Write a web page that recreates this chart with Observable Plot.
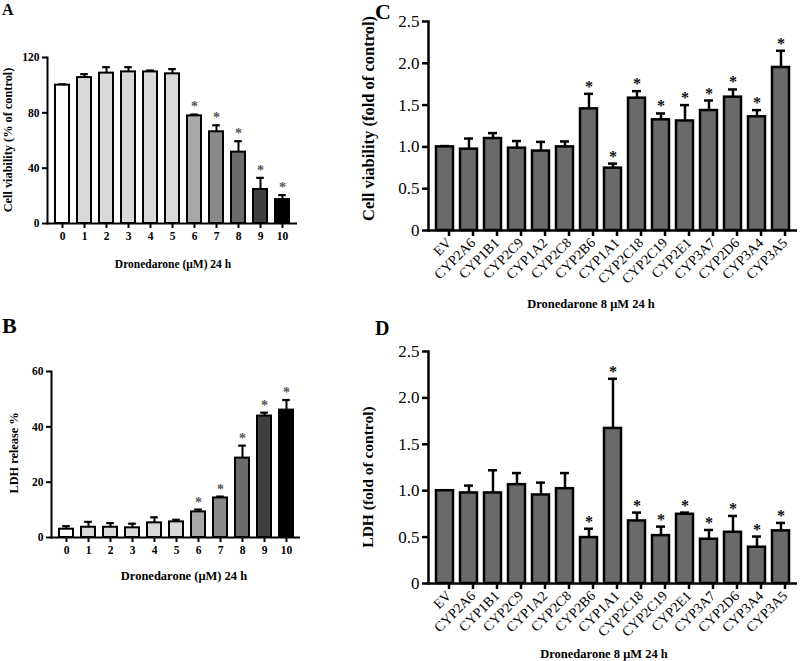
<!DOCTYPE html>
<html><head><meta charset="utf-8">
<script src="https://cdn.jsdelivr.net/npm/d3@7"></script>
<script src="https://cdn.jsdelivr.net/npm/@observablehq/plot@0.6"></script>
<style>
body{margin:0;background:#fff;}
#fig{position:relative;width:800px;height:661px;overflow:hidden;font-family:"Liberation Serif","Times New Roman",serif;background:#fff;}
#fig > svg{position:absolute;}
</style></head><body><div id="fig"></div>
<script>
// ---- Panel A / B data (dose in µM) ----
const doses = ["0","1","2","3","4","5","6","7","8","9","10"];
const doseFills = ["#ffffff","#d9d9d9","#d9d9d9","#d9d9d9","#d9d9d9","#d9d9d9","#a8a8a8","#8a8a8a","#6b6b6b","#404040","#000000"];
const viabA    = [100, 105.5, 108.7, 109.6, 109.6, 108.2, 77.8, 66.3, 51.6, 24.6, 17.3];
const viabAErr = [0.6, 2.5, 4.3, 3.4, 1.0, 3.4, 1.0, 4.7, 7.9, 8.4, 3.2];
const starsA   = [false,false,false,false,false,false,true,true,true,true,true];
const ldhB     = [3.0, 3.7, 3.7, 3.5, 5.3, 5.65, 9.26, 14.3, 28.7, 43.9, 46.05];
const ldhBErr  = [1.1, 1.95, 1.5, 1.5, 2.0, 0.75, 0.85, 0.5, 4.5, 1.2, 3.65];
const starsB   = [false,false,false,false,false,false,true,true,true,true,true];
const ticksA = [0, 40, 80, 120];
const ticksB = [0, 20, 40, 60];

// ---- Panel C / D data (Dronedarone 8 µM 24 h) ----
const cyps = ["EV","CYP2A6","CYP1B1","CYP2C9","CYP1A2","CYP2C8","CYP2B6","CYP1A1","CYP2C18","CYP2C19","CYP2E1","CYP3A7","CYP2D6","CYP3A4","CYP3A5"];
const viabC    = [1.0, 0.973, 1.10, 0.985, 0.95, 1.0, 1.455, 0.746, 1.583, 1.324, 1.31, 1.435, 1.595, 1.36, 1.95];
const viabCErr = [0.01, 0.127, 0.065, 0.085, 0.11, 0.065, 0.18, 0.054, 0.084, 0.076, 0.19, 0.12, 0.092, 0.08, 0.2];
const starsC   = [false,false,false,false,false,false,true,true,true,true,true,true,true,true,true];
const ldhD     = [1.0, 0.976, 0.976, 1.065, 0.954, 1.022, 0.495, 1.671, 0.674, 0.516, 0.746, 0.477, 0.552, 0.391, 0.567];
const ldhDErr  = [0.0, 0.079, 0.244, 0.125, 0.133, 0.168, 0.095, 0.535, 0.09, 0.097, 0.018, 0.1, 0.176, 0.115, 0.086];
const starsD   = [false,false,false,false,false,false,true,true,true,true,true,true,true,true,true];
const ticksCD = [0, 0.5, 1.0, 1.5, 2.0, 2.5];

const FONT = '"Liberation Serif","Times New Roman",serif';
const fig = document.getElementById("fig");

function rows(cats, vals, errs, stars, fills) {
  return cats.map((c, i) => ({cat: c, v: vals[i], top: vals[i] + errs[i], star: stars[i], fill: fills ? fills[i] : "#6a6a6a"}));
}

function place(svg, left, top) {
  svg.style.left = left + "px";
  svg.style.top = top + "px";
  fig.appendChild(svg);
}

function dosePanel(data, yMax, yTicks, box) {
  const p = Plot.plot({
    width: box.w, height: box.h,
    marginLeft: box.ml, marginRight: box.mr, marginTop: box.mt, marginBottom: box.mb,
    style: {fontFamily: FONT, fontSize: "11.5px", fontWeight: "bold", color: "#000", background: "transparent", overflow: "visible"},
    x: {type: "band", domain: data.map(d => d.cat), paddingInner: 0.38, paddingOuter: 0.22},
    y: {domain: [0, yMax]},
    marks: [
      Plot.ruleX(data, {x: "cat", y1: "v", y2: "top", strokeWidth: 2, stroke: "#000"}),
      Plot.tickY(data, {x: "cat", y: "top", strokeWidth: 2.2, stroke: "#000", insetLeft: 3.2, insetRight: 3.2}),
      Plot.barY(data, {x: "cat", y: "v", fill: "fill", stroke: "#000", strokeWidth: 2}),
      Plot.text(data.filter(d => d.star), {x: "cat", y: "top", text: () => "*", lineAnchor: "bottom", dy: -3, fontSize: 14, fill: "#555"}),
      Plot.ruleY([0], {strokeWidth: 2, stroke: "#000"}),
      Plot.frame({anchor: "left", strokeWidth: 2, stroke: "#000"}),
      Plot.axisY({ticks: yTicks, tickSize: 5, tickPadding: 3, strokeWidth: 2, label: null, fontSize: 11.5, fontWeight: "bold"}),
      Plot.axisX({tickSize: 5, tickPadding: 3, strokeWidth: 2, label: null, fontSize: 11.5, fontWeight: "bold"})
    ]
  });
  place(p, box.left, box.top);
}

function cypPanel(data, box) {
  const p = Plot.plot({
    width: box.w, height: box.h,
    marginLeft: box.ml, marginRight: box.mr, marginTop: box.mt, marginBottom: box.mb,
    style: {fontFamily: FONT, fontSize: "14px", fontWeight: "normal", color: "#000", background: "transparent", overflow: "visible"},
    x: {type: "band", domain: data.map(d => d.cat), paddingInner: 0.285, paddingOuter: 0.18},
    y: {domain: [0, 2.5]},
    marks: [
      Plot.ruleX(data.filter(d => d.top > d.v + 0.005), {x: "cat", y1: "v", y2: "top", strokeWidth: 2.5, stroke: "#000"}),
      Plot.tickY(data, {x: "cat", y: "top", strokeWidth: 2.5, stroke: "#000", insetLeft: 4, insetRight: 4}),
      Plot.barY(data, {x: "cat", y: "v", fill: "fill", stroke: "#000", strokeWidth: 2.5}),
      Plot.text(data.filter(d => d.star), {x: "cat", y: "top", text: () => "*", lineAnchor: "bottom", dy: -2, fontSize: 16, fontWeight: "bold", fill: "#111"}),
      Plot.ruleY([0], {strokeWidth: 2.5, stroke: "#000"}),
      Plot.frame({anchor: "left", strokeWidth: 2.5, stroke: "#000"}),
      Plot.axisY({ticks: ticksCD, tickFormat: d => d === 0 ? "0" : d.toFixed(1), tickSize: 6, tickPadding: 3, strokeWidth: 2.5, label: null, fontSize: 17}),
      Plot.axisX({tickSize: 6, tickPadding: 4, dx: 4, tickRotate: -45, strokeWidth: 2.5, label: null, fontSize: 14})
    ]
  });
  place(p, box.left, box.top);
}

dosePanel(rows(doses, viabA, viabAErr, starsA, doseFills), 120, ticksA,
  {left: 0, top: 40, w: 310, h: 210, ml: 47, mr: 13, mt: 17, mb: 27});
dosePanel(rows(doses, ldhB, ldhBErr, starsB, doseFills), 60, ticksB,
  {left: 0, top: 350, w: 310, h: 215, ml: 51, mr: 10, mt: 21, mb: 28});
cypPanel(rows(cyps, viabC, viabCErr, starsC),
  {left: 385, top: 0, w: 415, h: 300, ml: 43, mr: 3, mt: 21, mb: 70});
cypPanel(rows(cyps, ldhD, ldhDErr, starsD),
  {left: 385, top: 330, w: 415, h: 331, ml: 43, mr: 3, mt: 21, mb: 78});

// ---- Titles, axis titles and panel letters ----
const labels = [
  {t: "A", x: 2, y: 15, s: 16, a: "start"},
  {t: "B", x: 2, y: 333, s: 22, a: "start"},
  {t: "C", x: 375, y: 18.5, s: 22, a: "start"},
  {t: "D", x: 375, y: 335, s: 20, a: "start"},
  {t: "Dronedarone (μM) 24 h", x: 173, y: 268, s: 11.5, a: "middle"},
  {t: "Dronedarone (μM) 24 h", x: 184, y: 580, s: 12.5, a: "middle"},
  {t: "Dronedarone 8 μM 24 h", x: 591, y: 308, s: 12.5, a: "middle"},
  {t: "Dronedarone 8 μM 24 h", x: 604, y: 658, s: 12.5, a: "middle"},
  {t: "Cell viability (% of control)", x: 11.5, y: 140, s: 12.3, a: "middle", r: true},
  {t: "LDH release %", x: 18, y: 453, s: 12.3, a: "middle", r: true},
  {t: "Cell viability (fold of control)", x: 374, y: 118.5, s: 16.5, a: "middle", r: true},
  {t: "LDH (fold of control)", x: 373, y: 477, s: 15.5, a: "middle", r: true}
];
const ns = "http://www.w3.org/2000/svg";
const ov = document.createElementNS(ns, "svg");
ov.setAttribute("width", 800); ov.setAttribute("height", 661);
ov.style.left = "0px"; ov.style.top = "0px"; ov.style.pointerEvents = "none";
for (const l of labels) {
  const t = document.createElementNS(ns, "text");
  t.setAttribute("x", l.x); t.setAttribute("y", l.y);
  t.setAttribute("text-anchor", l.a);
  t.setAttribute("font-family", FONT);
  t.setAttribute("font-weight", "bold");
  t.setAttribute("font-size", l.s);
  if (l.r) t.setAttribute("transform", `rotate(-90 ${l.x} ${l.y})`);
  t.textContent = l.t;
  ov.appendChild(t);
}
fig.appendChild(ov);
</script></body></html>
